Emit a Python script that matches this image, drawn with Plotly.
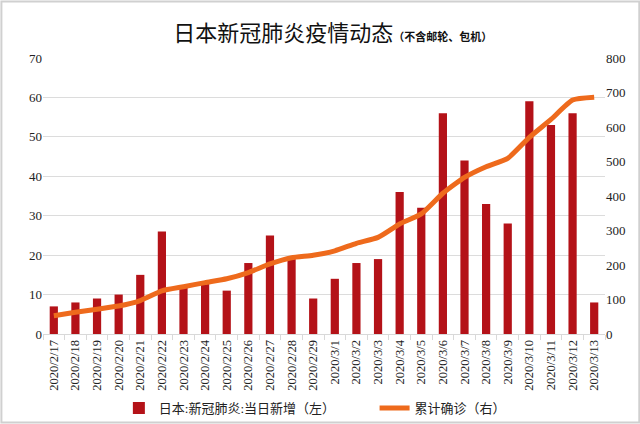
import plotly.graph_objects as go

dates = ["2020/2/17", "2020/2/18", "2020/2/19", "2020/2/20", "2020/2/21", "2020/2/22",
         "2020/2/23", "2020/2/24", "2020/2/25", "2020/2/26", "2020/2/27", "2020/2/28",
         "2020/2/29", "2020/3/1", "2020/3/2", "2020/3/3", "2020/3/4", "2020/3/5",
         "2020/3/6", "2020/3/7", "2020/3/8", "2020/3/9", "2020/3/10", "2020/3/11",
         "2020/3/12", "2020/3/13"]
daily_new = [7, 8, 9, 10, 15, 26, 12, 13, 11, 18, 25, 19, 9, 14, 18, 19, 36, 32,
             56, 44, 33, 28, 59, 53, 56, 8]
cumulative = [53, 63, 72, 81, 97, 125, 137, 149, 160, 178, 203, 221, 228, 241, 263,
              280, 319, 348, 408, 454, 485, 509, 570, 622, 678, 686]

serif = "Liberation Serif, Noto Sans CJK SC, serif"
cjk = "Noto Sans CJK SC, sans-serif"

fig = go.Figure()
fig.add_trace(go.Bar(
    x=dates, y=daily_new, name="日本:新冠肺炎:当日新增（左）",
    marker=dict(color="#B41218", line=dict(width=0)),
    yaxis="y", legend="legend",
))
fig.add_trace(go.Scatter(
    x=dates, y=cumulative, name="累计确诊（右）", mode="lines",
    line=dict(color="#EE6A1C", width=5, shape="spline", smoothing=0.5),
    yaxis="y2", legend="legend2",
))

legend_common = dict(
    orientation="h", xanchor="left", y=-0.268, yanchor="middle",
    font=dict(family=serif, size=13, color="#222222"),
    bgcolor="rgba(0,0,0,0)",
)

fig.update_layout(
    width=640, height=424,
    margin=dict(l=43, r=35, t=58, b=90, autoexpand=False),
    paper_bgcolor="white", plot_bgcolor="white",
    bargap=0.62,
    showlegend=True,
    title=dict(
        text="日本新冠肺炎疫情动态<span style='font-size:11px;font-weight:bold'>（不含邮轮、包机）</span>",
        x=0.52, xanchor="center", y=0.922, yanchor="middle",
        font=dict(family=cjk, size=22, color="#111111"),
    ),
    legend=dict(x=0.135, **legend_common),
    legend2=dict(x=0.59, **legend_common),
    xaxis=dict(
        type="category", tickangle=-90, automargin=False,
        tickfont=dict(family=serif, size=12.5, color="#222222"),
        showgrid=False, showline=True, linecolor="#D9D9D9", linewidth=1,
        ticks="outside", tickson="boundaries", ticklen=5, tickcolor="#D9D9D9",
    ),
    yaxis=dict(
        range=[0, 70], dtick=10, automargin=False,
        tickfont=dict(family=serif, size=13, color="#222222"),
        showgrid=True, gridcolor="#DCDCDC", gridwidth=1, zeroline=False,
        showline=False, ticks="",
    ),
    yaxis2=dict(
        range=[0, 800], dtick=100, overlaying="y", side="right", automargin=False,
        tickfont=dict(family=serif, size=13, color="#222222"),
        showgrid=False, zeroline=False, showline=False, ticks="",
    ),
    shapes=[dict(type="rect", xref="paper", yref="paper", x0=-0.074, x1=1.061,
                 y0=-0.321, y1=1.205, line=dict(color="#D0D0D0", width=2),
                 fillcolor="rgba(0,0,0,0)")],
)

fig.write_html("out.html",
               config={"displayModeBar": False},
               post_script="document.body.style.margin='0';document.body.style.padding='0';")
